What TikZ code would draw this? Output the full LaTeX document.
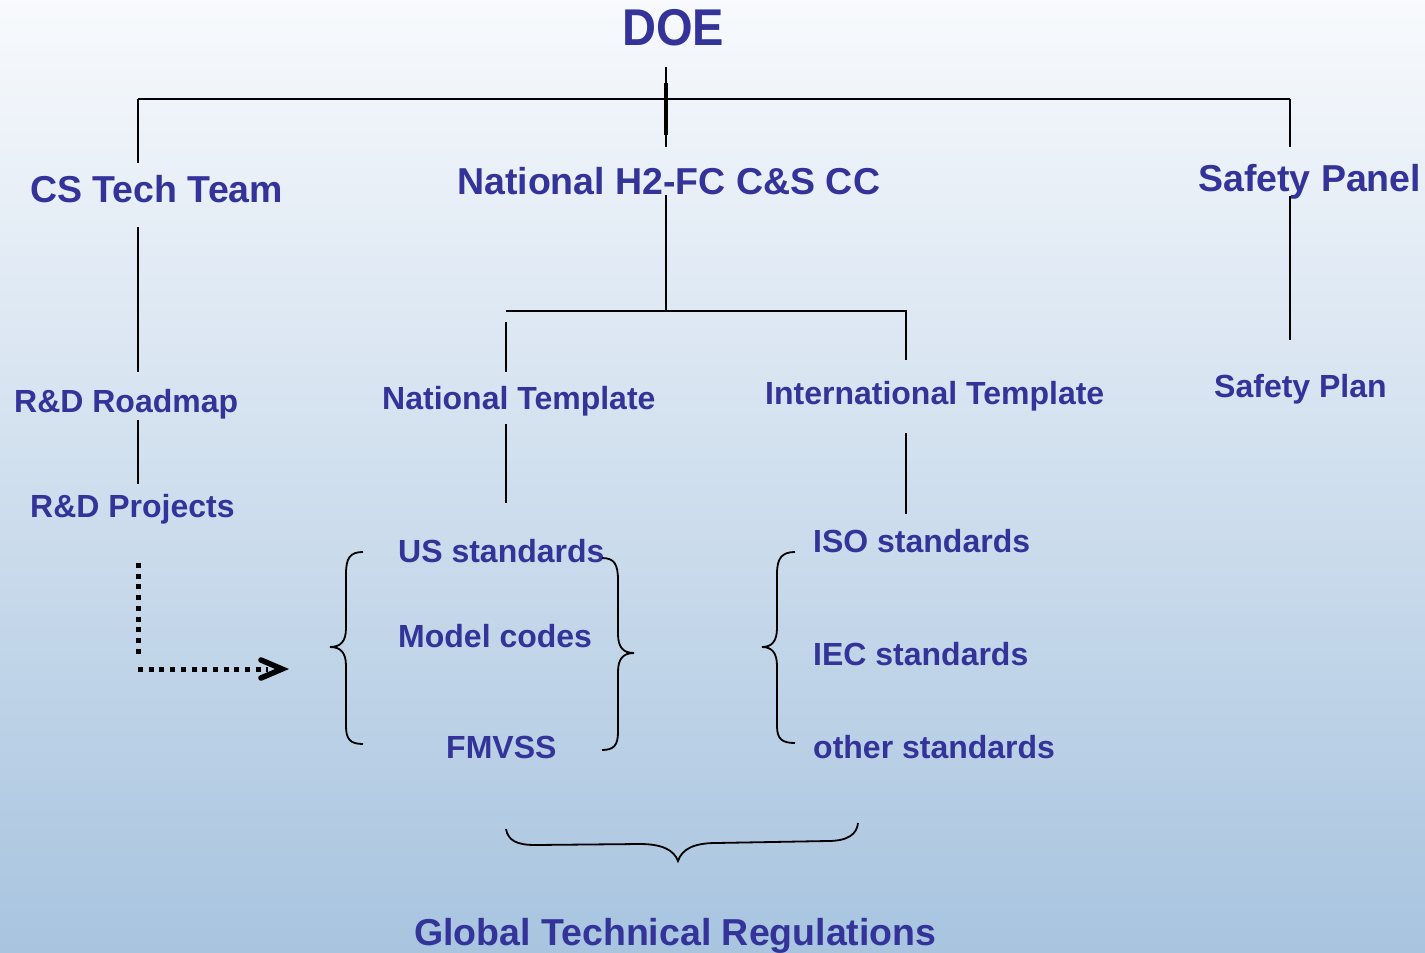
\documentclass[tikz,border=0pt]{standalone}
\usepackage{fontspec}
\setmainfont{Liberation Sans}
\usetikzlibrary{arrows.meta}
\definecolor{txtblue}{HTML}{333399}
\definecolor{bgtop}{HTML}{F8FAFD}
\definecolor{bgbot}{HTML}{A8C4DF}
\tikzset{
  lbl/.style={anchor=base west,inner sep=0pt,text=txtblue,font=\bfseries\fontsize{37.5}{44}\selectfont},
  lblm/.style={lbl,font=\bfseries\fontsize{32}{38}\selectfont},
  conn/.style={line width=1.8pt,black},
  bracestyle/.style={line width=1.8pt,black},
  dotline/.style={line width=5pt,dash pattern=on 5pt off 5.7pt,black}
}
\begin{document}
\begin{tikzpicture}[x=1pt,y=-1pt]
\useasboundingbox (0,0) rectangle (1425,953);
\shade[top color=bgtop,bottom color=bgbot] (0,0) rectangle (1425,953);

% texts
\node[lbl,font=\bfseries\fontsize{47}{52}\selectfont] (doe) at (622,45) {\scalebox{1}[1.1]{DOE}};
\node[lbl] (cst) at (30,202) {CS Tech Team};
\node[lbl] (nat) at (457,194) {National H2-FC C\&S CC};
\node[lbl] (sp) at (1198,191) {Safety Panel};
\node[lblm] (rdr) at (14,412) {R\&D Roadmap};
\node[lblm] (rdp) at (30,517) {R\&D Projects};
\node[lblm] (ntp) at (382,409) {National Template};
\node[lblm] (itp) at (765,404) {International Template};
\node[lblm] (spl) at (1214,397) {Safety Plan};
\node[lblm] (us) at (398,562) {US standards};
\node[lblm] (mc) at (398,647) {Model codes};
\node[lblm] (fm) at (446,758) {FMVSS};
\node[lblm] (iso) at (813,552) {ISO standards};
\node[lblm] (iec) at (813,665) {IEC standards};
\node[lblm] (oth) at (813,758) {other standards};
\node[lbl] (gtr) at (414,945) {Global Technical Regulations};

% connector coordinates
\coordinate (doeB) at (666,67);
\coordinate (hubT) at (666,99);
\coordinate (natT) at (666,147);
\coordinate (topL) at (138,99);
\coordinate (topR) at (1290,99);
\coordinate (cstT) at (138,163);
\coordinate (spT) at (1290,147);
\coordinate (cstB) at (138,227);
\coordinate (rdrT) at (138,372);
\coordinate (rdrB) at (138,420);
\coordinate (rdpT) at (138,484);
\coordinate (spB) at (1290,196);
\coordinate (splT) at (1290,340);
\coordinate (natB) at (666,195);
\coordinate (hub2) at (666,311);
\coordinate (h2L) at (506,311);
\coordinate (h2R) at (906,311);
\coordinate (ntpT0) at (506,322);
\coordinate (ntpT) at (506,372);
\coordinate (itpT) at (906,360);
\coordinate (ntpB) at (506,424);
\coordinate (usT) at (506,503);
\coordinate (itpB) at (906,433);
\coordinate (isoT) at (906,514);
\coordinate (rdpB) at (138,563);
\coordinate (dotC) at (138,669);
\coordinate (dotE) at (282,669);

% connectors
\draw[conn] (doeB) -- (natT);
\draw[line width=3.4pt] (666,83) -- (666,135);
\draw[conn] (topL) -- (topR);
\draw[conn] (topL) -- (cstT);
\draw[conn] (topR) -- (spT);
\draw[conn] (cstB) -- (rdrT);
\draw[conn] (rdrB) -- (rdpT);
\draw[conn] (spB) -- (splT);
\draw[conn] (natB) -- (hub2);
\draw[conn] (h2L) -- (h2R) -- (itpT);
\draw[conn] (ntpT0) -- (ntpT);
\draw[conn] (ntpB) -- (usT);
\draw[conn] (itpB) -- (isoT);

% dotted arrow
\draw[dotline] (rdpB) -- (138,654);
\draw[dotline] (dotC) -- (268,669);
\draw[line width=5.5pt,line cap=round,line join=miter] (261,660) -- (dotE) -- (261,678);

% left brace (national, opening)
\draw[bracestyle] (363,552) .. controls (350,552) and (346,558) .. (346,574)
  -- (346,628) .. controls (346,641) and (341,647) .. (330,647)
  .. controls (341,647) and (346,653) .. (346,666)
  -- (346,726) .. controls (346,739) and (350,744) .. (363,744);
% right brace (national, closing)
\draw[bracestyle] (602,558) .. controls (614,558) and (618,564) .. (618,580)
  -- (618,634) .. controls (618,647) and (623,653) .. (634,653)
  .. controls (623,653) and (618,659) .. (618,672)
  -- (618,732) .. controls (618,745) and (614,750) .. (602,750);
% left brace (international)
\draw[bracestyle] (795,552) .. controls (782,552) and (777,558) .. (777,574)
  -- (777,628) .. controls (777,641) and (772,647) .. (762,647)
  .. controls (772,647) and (777,653) .. (777,666)
  -- (777,726) .. controls (777,739) and (782,743) .. (795,743);
% bottom brace
\draw[bracestyle] (506,829) .. controls (508,840) and (516,845) .. (535,845)
  -- (640,844) .. controls (662,844) and (674,850) .. (678,861)
  .. controls (682,849) and (694,843) .. (716,843)
  -- (828,841) .. controls (848,841) and (857,834) .. (858,823);
\end{tikzpicture}
\end{document}
